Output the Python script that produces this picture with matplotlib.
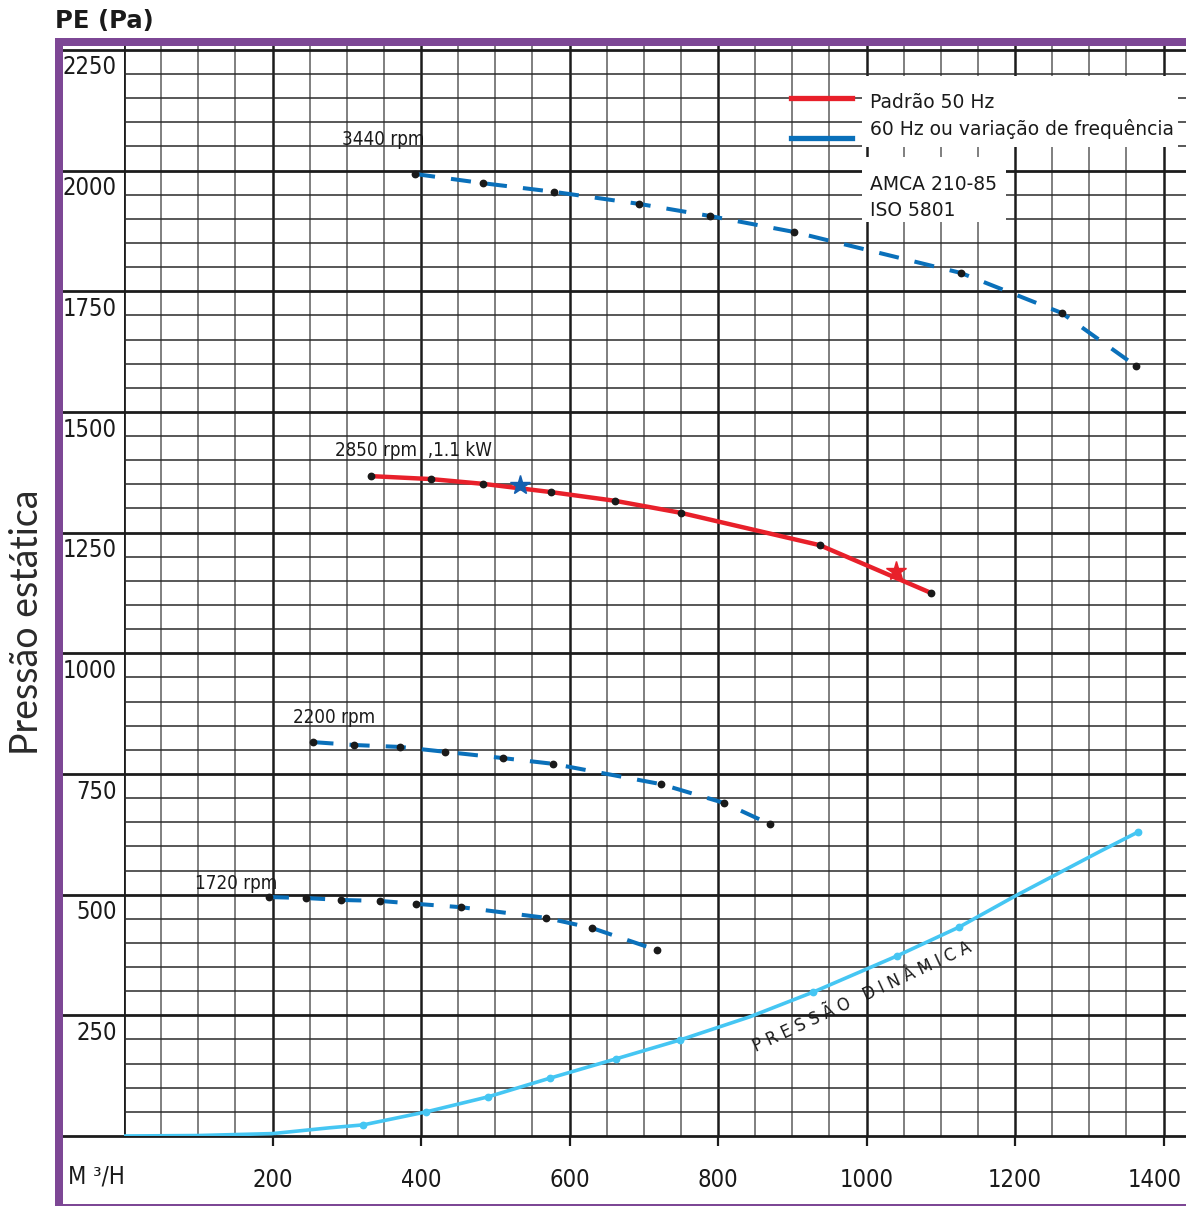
import matplotlib
matplotlib.use('Agg')
import matplotlib.pyplot as plt
import numpy as np
from matplotlib import transforms
from matplotlib.patches import Rectangle

# fan curves, flow in m3/h, static pressure in Pa
flow_3440 = [392, 483, 579, 694, 789, 902, 1127, 1263, 1363]
pe_3440 = [1993, 1974, 1956, 1931, 1906, 1873, 1788, 1705, 1595]

flow_2850 = [333, 413, 484, 575, 661, 750, 937, 1087]
pe_2850 = [1367, 1361, 1351, 1334, 1316, 1291, 1224, 1125]
star_blue = (533, 1349)
star_red = (1040, 1171)

flow_2200 = [255, 310, 372, 432, 510, 578, 723, 808, 870]
pe_2200 = [816, 810, 806, 796, 783, 771, 729, 690, 646]

flow_1720 = [195, 245, 292, 345, 393, 454, 568, 630, 718]
pe_1720 = [495, 493, 489, 487, 481, 474, 452, 431, 385]

# dynamic pressure: curve points and the marked points
pd_line_flow = [0, 100, 200, 277, 322, 407, 490, 574, 663, 749, 843, 928, 1041, 1125, 1200, 1315, 1366]
pd_line_p = [0, 1, 5, 17, 23, 50, 81, 120, 160, 199, 247, 298, 373, 433, 497, 590, 630]
pd_dot_flow = [322, 407, 490, 574, 663, 749, 928, 1041, 1125, 1366]
pd_dot_p = [23, 50, 81, 120, 160, 199, 298, 373, 433, 630]

x_ticks = [200, 400, 600, 800, 1000, 1200, 1400]
y_ticks = [250, 500, 750, 1000, 1250, 1500, 1750, 2000, 2250]

RED = '#e8202a'
BLUE = '#0a70ba'
LIGHT_BLUE = '#45c6f3'
PURPLE = '#7d4795'
INK = '#1a1a1a'
W, H = 1186, 1206

# condensed face, like the original chart lettering
NARROW = dict(family='DejaVu Sans', fontstretch='condensed')

fig = plt.figure(figsize=(W / 100, H / 100), dpi=100)
ax = fig.add_axes([124 / W, 70 / H, 1062 / W, 1090 / H])
ax.set_xlim(0, 1062 / 0.7425)
ax.set_ylim(0, 1090 / 0.4827)
for s in ax.spines.values():
    s.set_visible(False)
ax.set_yticks([])

# grid
for x in np.arange(50, 1430, 50):
    major = x % 200 == 0
    ax.axvline(x, color='#1c1c1c' if major else '#6a6a6a', lw=1.8 if major else 1.2, zorder=1)
ax.axvline(0, color='#1c1c1c', lw=2, zorder=1)
for y in np.arange(50, 2260, 50):
    if y % 250 != 0:
        ax.axhline(y, color='#2a2a2a', lw=1.1, zorder=1)
blend = transforms.blended_transform_factory(ax.transAxes, ax.transData)
for y in [0] + y_ticks:
    ax.plot([-62 / 1062, 1], [y, y], transform=blend, color='#1c1c1c', lw=2.0,
            clip_on=False, zorder=1.5)

# white boxes behind the legend and the standards
box_tr = fig.transFigure
ax.add_patch(Rectangle((862 / W, 1 - 147 / H), 316 / W, 71 / H, transform=box_tr,
                       facecolor='white', edgecolor='none', zorder=2, clip_on=False))
ax.add_patch(Rectangle((862 / W, 1 - 222 / H), 144 / W, 65 / H, transform=box_tr,
                       facecolor='white', edgecolor='none', zorder=2, clip_on=False))

# curves
dash = dict(ls=(0, (5, 4)), lw=2.9, color=BLUE, zorder=3, dash_capstyle='butt')
ax.plot(flow_3440, pe_3440, **dash)
ax.plot(flow_2200, pe_2200, **dash)
ax.plot(flow_1720, pe_1720, **dash)
ax.plot(flow_2850, pe_2850, color=RED, lw=3.2, zorder=3)
for fl, pe in [(flow_3440, pe_3440), (flow_2850, pe_2850), (flow_2200, pe_2200), (flow_1720, pe_1720)]:
    ax.plot(fl, pe, 'o', color=INK, ms=4.6, zorder=4)
ax.plot(*star_blue, '*', color='#1560b0', ms=15, zorder=5)
ax.plot(*star_red, '*', color=RED, ms=15, zorder=5)

ax.plot(pd_line_flow, pd_line_p, color=LIGHT_BLUE, lw=2.6, zorder=3)
ax.plot(pd_dot_flow, pd_dot_p, 'o', color=LIGHT_BLUE, ms=4.6, zorder=4)

# rpm labels
rpm_font = dict(fontsize=13.5, color=INK, va='center', ha='left', zorder=6, **NARROW)
ax.text(294, 2065, '3440 rpm', **rpm_font)
ax.text(284, 1421, '2850 rpm  ,1.1 kW', **rpm_font)
ax.text(228, 866, '2200 rpm', **rpm_font)
ax.text(96, 524, '1720 rpm', **rpm_font)

ax.text(994, 288, 'P R E S S Ã O   D I N Â M I C A', rotation=25, rotation_mode='anchor',
        ha='center', va='center', fontsize=13, color=INK, zorder=6, **NARROW)

# axis labels
tick_font = dict(fontsize=17, color=INK, **NARROW)
off = transforms.ScaledTranslation(0, -4 / 72, fig.dpi_scale_trans)
for y in y_ticks:
    ax.text(-7 / 1062, y, str(y), transform=blend + off, ha='right', va='top', **tick_font)

ax.set_xticks(x_ticks)
ax.set_xticklabels([str(v) for v in x_ticks], **tick_font)
ax.tick_params(axis='x', length=7, width=1.6, color='#1c1c1c', pad=16)
# last label sits a little left of its tick, as in the original
last = ax.get_xticklabels()[-1]
last.set_horizontalalignment('right')
last.set_transform(last.get_transform() + transforms.ScaledTranslation(18 / 100, 0, fig.dpi_scale_trans))
ax.text(-56 / 1062, -41 / 1090, 'M ³/H', transform=ax.transAxes, ha='left', va='center', **tick_font)

# legend, drawn by hand as in the original
ax.plot([791 / W, 852 / W], [1 - 98 / H] * 2, transform=box_tr, color=RED, lw=3.8, clip_on=False, zorder=3)
ax.plot([791 / W, 852 / W], [1 - 138 / H] * 2, transform=box_tr, color=BLUE, lw=3.8, clip_on=False, zorder=3)
leg_font = dict(fontsize=13.5, color=INK, family='DejaVu Sans', transform=box_tr, va='center', zorder=6)
fig.text(870 / W, 1 - 103 / H, 'Padrão 50 Hz', **leg_font)
fig.text(870 / W, 1 - 129 / H, '60 Hz ou variação de frequência', **leg_font)
fig.text(870 / W, 1 - 184 / H, 'AMCA 210-85', **leg_font)
fig.text(870 / W, 1 - 210 / H, 'ISO 5801', **leg_font)

# purple frame
fig.patches.append(Rectangle((55 / W, 0), 8 / W, 1 - 38 / H, transform=fig.transFigure,
                             facecolor=PURPLE, edgecolor='none', zorder=10))
fig.patches.append(Rectangle((55 / W, 1 - 46 / H), 1 - 55 / W, 8 / H, transform=fig.transFigure,
                             facecolor=PURPLE, edgecolor='none', zorder=10))
fig.patches.append(Rectangle((55 / W, 0), 1 - 55 / W, 2.5 / H, transform=fig.transFigure,
                             facecolor=PURPLE, edgecolor='none', zorder=10))

fig.text(55 / W, 1 - 21 / H, 'PE (Pa)', fontsize=17.5, fontweight='bold', family='DejaVu Sans',
         color=INK, va='center', ha='left')
fig.text(27 / W, 1 - 622 / H, 'Pressão estática', rotation=90, fontsize=27,
         family=['Lato', 'DejaVu Sans'], color='#2a2a2a', va='center', ha='center')

fig.savefig('out.png', dpi=100)
